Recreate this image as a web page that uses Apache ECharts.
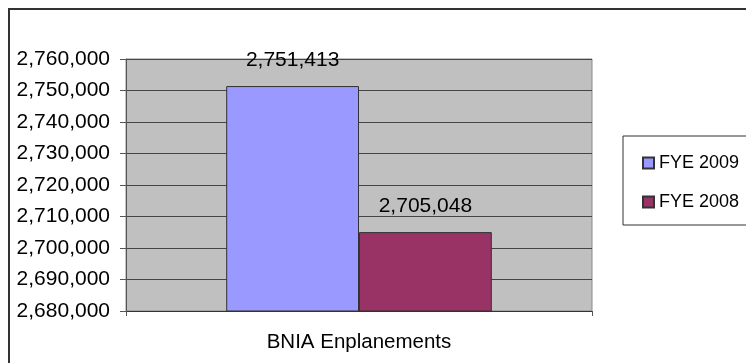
<!DOCTYPE html>
<html>
<head>
<meta charset="utf-8">
<script src="https://cdn.jsdelivr.net/npm/echarts@6/dist/echarts.min.js"></script>
<style>html,body{margin:0;padding:0;background:#fff}#c{width:746px;height:363px}</style>
</head>
<body>
<div id="c"></div>
<script>
const categories = ['BNIA Enplanements'];
const seriesNames = ['FYE 2009', 'FYE 2008'];
const fye2009 = [2751413];
const fye2008 = [2705048];
const yMin = 2680000, yMax = 2760000, yInterval = 10000;
const colors = ['#9999FF', '#993366'];

const font = 'Liberation Sans, Arial, sans-serif';
const chart = echarts.init(document.getElementById('c'), null, {renderer: 'canvas'});
const fmt = v => v.toLocaleString('en-US');
const labelCfg = {
  show: true, position: 'top', distance: 15,
  fontFamily: font, fontSize: 21, color: '#000',
  formatter: p => fmt(p.value)
};
chart.setOption({
  animation: false,
  graphic: [{
    type: 'rect', z: 0,
    shape: {x: 9, y: 9, width: 900, height: 500},
    style: {fill: 'none', stroke: '#333', lineWidth: 2}
  }],
  grid: {
    left: 126, top: 59, right: 154, bottom: 52,
    show: true, backgroundColor: '#C0C0C0', borderColor: '#8a8a8a', borderWidth: 1
  },
  legend: {
    orient: 'vertical', left: 623, top: 136,
    data: seriesNames,
    icon: 'rect', itemWidth: 11, itemHeight: 11, itemGap: 21,
    padding: [18, 40, 14, 19],
    borderColor: '#333', borderWidth: 1,
    textStyle: {fontFamily: font, fontSize: 18, lineHeight: 18, color: '#000'}
  },
  xAxis: {
    type: 'category', data: categories,
    axisLine: {show: true, lineStyle: {color: '#333', width: 1}},
    axisTick: {show: true, length: 5, lineStyle: {color: '#555'}},
    axisLabel: {fontFamily: font, fontSize: 20.5, color: '#000', margin: 21}
  },
  yAxis: {
    type: 'value', min: yMin, max: yMax, interval: yInterval,
    axisLine: {show: true, lineStyle: {color: '#555'}},
    axisTick: {show: true, length: 6, lineStyle: {color: '#555'}},
    axisLabel: {fontFamily: font, fontSize: 21, color: '#000', margin: 16, formatter: v => fmt(v)},
    splitLine: {show: true, lineStyle: {color: '#444', width: 1}}
  },
  series: [
    {name: seriesNames[0], type: 'bar', data: fye2009, barGap: '0%', barCategoryGap: '43%',
     itemStyle: {color: colors[0], borderColor: '#333', borderWidth: 1}, label: labelCfg},
    {name: seriesNames[1], type: 'bar', data: fye2008, barGap: '0%', barCategoryGap: '43%',
     itemStyle: {color: colors[1], borderColor: '#333', borderWidth: 1}, label: labelCfg}
  ]
});
</script>
</body>
</html>
